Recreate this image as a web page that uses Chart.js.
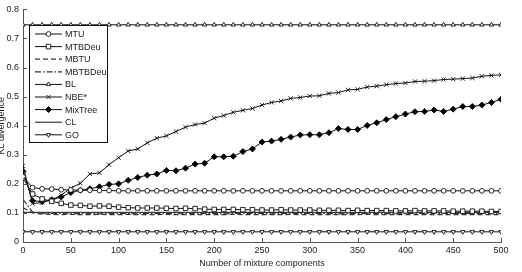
<!DOCTYPE html>
<html>
<head>
<meta charset="utf-8">
<script src="https://cdn.jsdelivr.net/npm/chart.js@4.4.1/dist/chart.umd.min.js"></script>
<style>
html,body{margin:0;padding:0;background:#fff;}
#wrap{width:522px;height:272px;position:relative;}
</style>
</head>
<body>
<div id="wrap"><canvas id="c" width="522" height="272"></canvas></div>
<script>
const components = [0,10,20,30,40,50,60,70,80,90,100,110,120,130,140,150,160,170,180,190,200,210,220,230,240,250,260,270,280,290,300,310,320,330,340,350,360,370,380,390,400,410,420,430,440,450,460,470,480,490,500];

const xTicks = [0,50,100,150,200,250,300,350,400,450,500];
const yTicks = [0,0.1,0.2,0.3,0.4,0.5,0.6,0.7,0.8];

const mtu = [0.225,0.187,0.183,0.182,0.180,0.179,0.178,0.178,0.177,0.177,
  0.176,0.176,0.176,0.176,0.176,0.176,0.176,0.176,0.176,0.176,
  0.176,0.176,0.176,0.176,0.176,0.176,0.176,0.176,0.176,0.176,
  0.176,0.176,0.176,0.176,0.176,0.176,0.176,0.176,0.176,0.176,
  0.176,0.176,0.176,0.176,0.176,0.176,0.176,0.176,0.176,0.176,
  0.176];

const mtbdeu = [0.220,0.165,0.148,0.140,0.133,0.127,0.126,0.123,0.124,0.123,
  0.120,0.118,0.117,0.117,0.117,0.116,0.115,0.116,0.115,0.113,
  0.112,0.112,0.112,0.111,0.111,0.110,0.110,0.111,0.110,0.110,
  0.110,0.109,0.109,0.109,0.108,0.109,0.108,0.108,0.108,0.107,
  0.107,0.108,0.107,0.107,0.107,0.106,0.106,0.106,0.106,0.105,
  0.105];

const mbtu = [0.118,0.100,0.096,0.095,0.094,0.095,0.094,0.094,0.095,0.094,
  0.094,0.095,0.094,0.094,0.094,0.095,0.094,0.094,0.094,0.094,
  0.094,0.094,0.095,0.094,0.094,0.094,0.094,0.094,0.095,0.094,
  0.094,0.094,0.094,0.094,0.094,0.094,0.095,0.094,0.094,0.094,
  0.094,0.094,0.094,0.094,0.094,0.094,0.094,0.094,0.094,0.094,
  0.094];

const mbtbdeu = [0.147,0.103,0.099,0.098,0.098,0.097,0.098,0.098,0.097,0.098,
  0.098,0.098,0.097,0.098,0.098,0.098,0.097,0.098,0.098,0.098,
  0.098,0.097,0.098,0.098,0.098,0.098,0.097,0.098,0.098,0.098,
  0.098,0.098,0.098,0.097,0.098,0.098,0.098,0.098,0.098,0.097,
  0.098,0.098,0.098,0.098,0.098,0.098,0.098,0.098,0.098,0.098,
  0.098];

const bl = [0.747,0.747,0.747,0.747,0.747,0.747,0.747,0.747,0.747,0.747,
  0.747,0.747,0.747,0.747,0.747,0.747,0.747,0.747,0.747,0.747,
  0.747,0.747,0.747,0.747,0.747,0.747,0.747,0.747,0.747,0.747,
  0.747,0.747,0.747,0.747,0.747,0.747,0.747,0.747,0.747,0.747,
  0.747,0.747,0.747,0.747,0.747,0.747,0.747,0.747,0.747,0.747,
  0.747];

const nbe = [0.262,0.132,0.136,0.145,0.161,0.185,0.202,0.234,0.238,0.266,
  0.290,0.313,0.320,0.341,0.357,0.365,0.380,0.395,0.404,0.409,
  0.426,0.435,0.446,0.453,0.459,0.471,0.480,0.485,0.494,0.497,
  0.502,0.503,0.511,0.514,0.523,0.525,0.533,0.536,0.541,0.545,
  0.547,0.552,0.553,0.555,0.559,0.560,0.562,0.564,0.570,0.573,
  0.575];

const mixtree = [0.243,0.142,0.139,0.145,0.155,0.170,0.178,0.183,0.190,0.198,
  0.200,0.212,0.222,0.230,0.234,0.246,0.245,0.254,0.268,0.271,
  0.293,0.293,0.295,0.311,0.320,0.344,0.347,0.353,0.361,0.368,
  0.369,0.369,0.376,0.390,0.387,0.387,0.401,0.410,0.421,0.431,
  0.440,0.448,0.449,0.454,0.449,0.457,0.466,0.466,0.471,0.480,
  0.491];

const cl = [0.102,0.102,0.102,0.102,0.102,0.102,0.102,0.102,0.102,0.102,
  0.102,0.102,0.102,0.102,0.102,0.102,0.102,0.102,0.102,0.102,
  0.102,0.102,0.102,0.102,0.102,0.102,0.102,0.102,0.102,0.102,
  0.102,0.102,0.102,0.102,0.102,0.102,0.102,0.102,0.102,0.102,
  0.102,0.102,0.102,0.102,0.102,0.102,0.102,0.102,0.102,0.102,
  0.102];

const go = [0.035,0.035,0.035,0.035,0.035,0.035,0.035,0.035,0.035,0.035,
  0.035,0.035,0.035,0.035,0.035,0.035,0.035,0.035,0.035,0.035,
  0.035,0.035,0.035,0.035,0.035,0.035,0.035,0.035,0.035,0.035,
  0.035,0.035,0.035,0.035,0.035,0.035,0.035,0.035,0.035,0.035,
  0.035,0.035,0.035,0.035,0.035,0.035,0.035,0.035,0.035,0.035,
  0.035];

const seriesNames = ['MTU','MTBDeu','MBTU','MBTBDeu','BL','NBE*','MixTree','CL','GO'];
const xTitle = 'Number of mixture components';
const yTitle = 'KL divergence';

const FONT = "'Liberation Sans', Arial, Helvetica, sans-serif";
const pts = arr => components.map((x, i) => ({x: x, y: arr[i]}));

function ds(label, arr, o) {
  return Object.assign({
    label: label, data: pts(arr),
    borderColor: '#111', borderWidth: 1, tension: 0,
    pointStyle: 'circle', pointRadius: 2.4, pointBorderWidth: 0.9,
    pointBorderColor: '#111', pointBackgroundColor: '#fff',
    pointHoverRadius: 0, fill: false
  }, o || {});
}

const datasets = [
  ds(seriesNames[0], mtu, {pointStyle: 'circle', pointRadius: 2.4}),
  ds(seriesNames[1], mtbdeu, {pointStyle: 'rect', pointRadius: 3.2}),
  ds(seriesNames[2], mbtu, {pointRadius: 0, borderDash: [5, 3], borderColor: '#333', borderWidth: 1.2}),
  ds(seriesNames[3], mbtbdeu, {pointRadius: 0, borderDash: [6, 2, 1.5, 2], borderColor: '#333', borderWidth: 1.2}),
  ds(seriesNames[4], bl, {pointStyle: 'triangle', pointRadius: 2.5}),
  ds(seriesNames[5], nbe, {pointStyle: 'crossRot', pointRadius: 3}),
  ds(seriesNames[6], mixtree, {pointStyle: 'rectRot', pointRadius: 3, pointBackgroundColor: '#000', pointBorderColor: '#000'}),
  ds(seriesNames[7], cl, {pointRadius: 0}),
  ds(seriesNames[8], go, {pointStyle: 'triangle', pointRadius: 2.5, pointRotation: 180})
];

function drawMarker(ctx, d, x, y) {
  if (!d.pointRadius) return;
  ctx.save();
  ctx.fillStyle = d.pointBackgroundColor;
  ctx.strokeStyle = d.pointBorderColor;
  ctx.lineWidth = d.pointBorderWidth;
  ctx.setLineDash([]);
  if (Chart.helpers && Chart.helpers.drawPoint) {
    Chart.helpers.drawPoint(ctx, {pointStyle: d.pointStyle, radius: d.pointRadius, rotation: d.pointRotation || 0, borderWidth: d.pointBorderWidth}, x, y);
  } else {
    ctx.beginPath(); ctx.arc(x, y, d.pointRadius, 0, Math.PI * 2); ctx.fill(); ctx.stroke();
  }
  ctx.restore();
}

const decor = {
  id: 'decor',
  afterDraw(chart) {
    const ctx = chart.ctx;
    const xs = chart.scales.x, ys = chart.scales.y;
    const a = chart.chartArea;
    ctx.save();
    // inward tick marks
    ctx.strokeStyle = '#555';
    ctx.lineWidth = 1;
    ctx.beginPath();
    xTicks.forEach(v => {
      const px = Math.round(xs.getPixelForValue(v)) + 0.5;
      ctx.moveTo(px, a.bottom); ctx.lineTo(px, a.bottom - 4);
    });
    yTicks.forEach(v => {
      const py = Math.round(ys.getPixelForValue(v)) + 0.5;
      ctx.moveTo(a.left, py); ctx.lineTo(a.left + 4, py);
    });
    ctx.stroke();
    // y title (partially clipped at the left edge)
    ctx.fillStyle = '#222';
    ctx.font = '9px ' + FONT;
    ctx.translate(2, (a.top + a.bottom) / 2);
    ctx.rotate(-Math.PI / 2);
    ctx.textAlign = 'center';
    ctx.textBaseline = 'middle';
    ctx.fillText(yTitle, 0, 0);
    ctx.restore();

    // legend box
    ctx.save();
    const bx = 29.5, by = 25.5, bw = 78, bh = 117;
    ctx.fillStyle = '#fff';
    ctx.fillRect(bx, by, bw, bh);
    ctx.strokeStyle = '#111';
    ctx.lineWidth = 1;
    ctx.strokeRect(bx, by, bw, bh);
    ctx.font = '9px ' + FONT;
    ctx.textAlign = 'left';
    ctx.textBaseline = 'middle';
    chart.data.datasets.forEach((d, i) => {
      const y = 34 + i * 12.6;
      ctx.save();
      ctx.strokeStyle = d.borderColor;
      ctx.lineWidth = d.borderWidth;
      ctx.setLineDash(d.borderDash || []);
      ctx.beginPath();
      ctx.moveTo(35, y); ctx.lineTo(62, y);
      ctx.stroke();
      ctx.restore();
      drawMarker(ctx, d, 48.5, y);
      ctx.fillStyle = '#222';
      ctx.fillText(d.label, 65, y + 0.5);
    });
    ctx.restore();
  }
};

new Chart(document.getElementById('c'), {
  type: 'line',
  data: {datasets: datasets},
  options: {
    responsive: false,
    animation: false,
    events: [],
    layout: {padding: {left: 0, top: 5, right: 21, bottom: 0}},
    plugins: {legend: {display: false}, tooltip: {enabled: false}},
    scales: {
      x: {
        type: 'linear', min: 0, max: 500,
        afterFit: s => { s.height = 30; },
        afterBuildTicks: s => { s.ticks = xTicks.map(v => ({value: v})); },
        ticks: {color: '#222', font: {family: FONT, size: 9}, padding: 3, maxRotation: 0, autoSkip: false},
        grid: {display: true, drawOnChartArea: false, drawTicks: false},
        border: {display: true, color: '#555', width: 1},
        title: {display: true, text: xTitle, color: '#222', font: {family: FONT, size: 9}, padding: {top: 0, bottom: 3}}
      },
      y: {
        type: 'linear', min: 0, max: 0.8,
        afterFit: s => { s.width = 23; },
        afterBuildTicks: s => { s.ticks = yTicks.map(v => ({value: v})); },
        ticks: {color: '#222', font: {family: FONT, size: 9}, padding: 4, callback: v => String(Math.round(v * 10) / 10)},
        grid: {display: true, drawOnChartArea: false, drawTicks: false},
        border: {display: true, color: '#555', width: 1}
      }
    }
  },
  plugins: [decor]
});
</script>
</body>
</html>
